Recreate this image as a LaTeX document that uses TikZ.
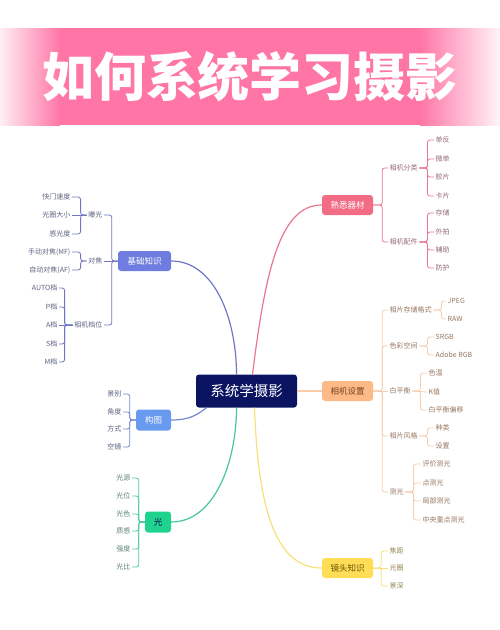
\documentclass[tikz,border=0pt]{standalone}
\usepackage{fontspec}
\setmainfont{Noto Sans CJK SC}
\usetikzlibrary{positioning}
\definecolor{titlepink}{RGB}{255,118,166}
\definecolor{darknavy}{RGB}{11,20,97}
\definecolor{basepurple}{RGB}{111,125,224}
\definecolor{baseline}{RGB}{112,118,196}
\definecolor{basetext}{RGB}{92,98,128}
\definecolor{gtblue}{RGB}{104,154,240}
\definecolor{gtline}{RGB}{118,136,210}
\definecolor{lightgreen}{RGB}{31,210,142}
\definecolor{greenline}{RGB}{70,200,150}
\definecolor{greentext}{RGB}{92,130,116}
\definecolor{shuxired}{RGB}{242,108,134}
\definecolor{redline}{RGB}{234,118,142}
\definecolor{redtext}{RGB}{150,106,116}
\definecolor{setorange}{RGB}{253,186,134}
\definecolor{orangeline}{RGB}{246,204,172}
\definecolor{orangetext}{RGB}{150,118,96}
\definecolor{darkorange}{RGB}{122,67,32}
\definecolor{lensyellow}{RGB}{255,221,87}
\definecolor{yellowline}{RGB}{249,222,122}
\definecolor{yellowtext}{RGB}{150,134,84}
\definecolor{darkyellow}{RGB}{107,83,0}

\begin{document}
\begin{tikzpicture}[x=1pt, y=-1pt,
        root/.style={rectangle, fill=darknavy, text=white, rounded corners=3pt, minimum width=101pt, minimum height=33pt, font=\fontsize{14.5}{16}\selectfont},
        topic/.style={rectangle, rounded corners=3pt, minimum height=20pt, inner sep=2pt, font=\fontsize{8.5}{10}\selectfont},
        sub/.style={inner sep=1.5pt, font=\fontsize{7}{8}\selectfont},
        leaf/.style={inner sep=1.5pt, font=\fontsize{7}{8}\selectfont},
        link/.style={rounded corners=2.5pt, line width=0.8pt},
        branch/.style={line width=1.2pt}
    ]
        \useasboundingbox (0,0) rectangle (500,630);

        % title band
        \fill[titlepink] (60,28) rectangle (420,125);
        \shade[left color=titlepink!12, right color=titlepink] (0,28) rectangle (60,125);
        \shade[left color=titlepink, right color=titlepink!8] (420,28) rectangle (500,125);
        \node[font=\fontsize{52}{52}\selectfont\bfseries, text=white] (title) at (250,77) {如何系统学习摄影};

        \node[root] (center) at (246.5,391) {系统学摄影};

        % right side
        \node[topic, fill=shuxired, text=white, minimum width=51pt] (shuxi) at (347.5,205) {熟悉器材};
        \node[sub, anchor=west, text=redtext] (fenlei) at (388,168) {相机分类};
        \node[sub, anchor=west, text=redtext] (peijian) at (388,242) {相机配件};
        \node[leaf, anchor=west, text=redtext] (danfan) at (434,140) {单反};
        \node[leaf, anchor=west, text=redtext] (weidan) at (434,159) {微单};
        \node[leaf, anchor=west, text=redtext] (jiaopian) at (434,177) {胶片};
        \node[leaf, anchor=west, text=redtext] (kapian) at (434,196) {卡片};
        \node[leaf, anchor=west, text=redtext] (cunchu) at (434,213) {存储};
        \node[leaf, anchor=west, text=redtext] (waipai) at (434,232) {外拍};
        \node[leaf, anchor=west, text=redtext] (fuzhu) at (434,250) {辅助};
        \node[leaf, anchor=west, text=redtext] (fanghu) at (434,268) {防护};

        \node[topic, fill=setorange, text=darkorange, minimum width=51pt] (shezhi) at (347.5,391) {相机设置};
        \node[sub, anchor=west, text=orangetext] (geshi) at (388,310) {相片存储格式};
        \node[sub, anchor=west, text=orangetext] (secai) at (388,346) {色彩空间};
        \node[sub, anchor=west, text=orangetext] (baiph) at (388,391) {白平衡};
        \node[sub, anchor=west, text=orangetext] (fengge) at (388,436) {相片风格};
        \node[sub, anchor=west, text=orangetext] (ceguang) at (388,492) {测光};
        \node[leaf, anchor=west, text=orangetext] (jpeg) at (446,301) {JPEG};
        \node[leaf, anchor=west, text=orangetext] (raw) at (446,319) {RAW};
        \node[leaf, anchor=west, text=orangetext] (srgb) at (434,337) {SRGB};
        \node[leaf, anchor=west, text=orangetext] (adobe) at (434,355) {Adobe RGB};
        \node[leaf, anchor=west, text=orangetext] (sewen) at (427,373) {色温};
        \node[leaf, anchor=west, text=orangetext] (kzhi) at (427,392) {K值};
        \node[leaf, anchor=west, text=orangetext] (pianyi) at (427,410) {白平衡偏移};
        \node[leaf, anchor=west, text=orangetext] (zhonglei) at (434,428) {种类};
        \node[leaf, anchor=west, text=orangetext] (shezhi2) at (434,446) {设置};
        \node[leaf, anchor=west, text=orangetext] (pingjia) at (421,464) {评价测光};
        \node[leaf, anchor=west, text=orangetext] (dian) at (421,483) {点测光};
        \node[leaf, anchor=west, text=orangetext] (jubu) at (421,501) {局部测光};
        \node[leaf, anchor=west, text=orangetext] (zhongyang) at (421,520) {中央重点测光};

        \node[topic, fill=lensyellow, text=darkyellow, minimum width=51pt] (jingtou) at (347.5,568) {镜头知识};
        \node[leaf, anchor=west, text=yellowtext] (jiaoju) at (388,551) {焦距};
        \node[leaf, anchor=west, text=yellowtext] (guangquan) at (388,568) {光圈};
        \node[leaf, anchor=west, text=yellowtext] (jingshen) at (388,586) {景深};

        % left side
        \node[topic, fill=basepurple, text=white, minimum width=53pt] (base) at (144.5,261) {基础知识};
        \node[sub, anchor=east, text=basetext] (baoguang) at (104,215) {曝光};
        \node[sub, anchor=east, text=basetext] (duijiao) at (104,261) {对焦};
        \node[sub, anchor=east, text=basetext] (dangwei) at (104,325) {相机档位};
        \node[leaf, anchor=east, text=basetext] (kuaimen) at (72,197) {快门速度};
        \node[leaf, anchor=east, text=basetext] (daxiao) at (72,215) {光圈大小};
        \node[leaf, anchor=east, text=basetext] (ganguang) at (72,234) {感光度};
        \node[leaf, anchor=east, text=basetext] (mf) at (72,252) {手动对焦(MF)};
        \node[leaf, anchor=east, text=basetext] (af) at (72,270) {自动对焦(AF)};
        \node[leaf, anchor=east, text=basetext] (auto) at (59,288) {AUTO档};
        \node[leaf, anchor=east, text=basetext] (pdang) at (59,307) {P档};
        \node[leaf, anchor=east, text=basetext] (adang) at (59,325) {A档};
        \node[leaf, anchor=east, text=basetext] (sdang) at (59,344) {S档};
        \node[leaf, anchor=east, text=basetext] (mdang) at (59,362) {M档};

        \node[topic, fill=gtblue, text=white, minimum width=35pt, minimum height=21pt] (goutu) at (153.5,420) {构图};
        \node[leaf, anchor=east, text=basetext] (jingbie) at (123,394) {景别};
        \node[leaf, anchor=east, text=basetext] (jiaodu) at (123,412) {角度};
        \node[leaf, anchor=east, text=basetext] (fangshi) at (123,429) {方式};
        \node[leaf, anchor=east, text=basetext] (kongjing) at (123,447) {空镜};

        \node[topic, fill=lightgreen, text=darknavy!80!black, minimum width=26pt, minimum height=21pt] (guang) at (158,522) {光};
        \node[leaf, anchor=east, text=greentext] (guangyuan) at (132,478) {光源};
        \node[leaf, anchor=east, text=greentext] (guangwei) at (132,496) {光位};
        \node[leaf, anchor=east, text=greentext] (guangse) at (132,514) {光色};
        \node[leaf, anchor=east, text=greentext] (zhigan) at (132,531) {质感};
        \node[leaf, anchor=east, text=greentext] (qiangdu) at (132,549) {强度};
        \node[leaf, anchor=east, text=greentext] (guangbi) at (132,567) {光比};

        % main branches
        \draw[branch, draw=baseline] (base.east) .. controls +(44,0) and +(0,-54) .. ([xshift=-10pt]center.north);
        \draw[branch, draw=redline] ([xshift=6pt]center.north) .. controls +(13,-104) and +(-42,0) .. (shuxi.west);
        \draw[branch, draw=orangeline] (center.east) -- (shezhi.west);
        \draw[branch, draw=yellowline] ([xshift=8pt]center.south) .. controls +(4,113) and +(-42,0) .. (jingtou.west);
        \draw[branch, draw=gtline] (goutu.east) .. controls +(20,0) and +(-8,6) .. ([xshift=-40pt]center.south);
        \draw[branch, draw=greenline] (guang.east) .. controls +(44,0) and +(0,53) .. ([xshift=-10pt]center.south);

        % brackets right
        \draw[link, draw=redline] (shuxi.east) -- ++(9,0) |- (fenlei.west);
        \draw[link, draw=redline] (shuxi.east) -- ++(9,0) |- (peijian.west);
        \draw[link, draw=redline] (fenlei.east) -- ++(8,0) |- (danfan.west);
        \draw[link, draw=redline] (fenlei.east) -- ++(8,0) |- (weidan.west);
        \draw[link, draw=redline] (fenlei.east) -- ++(8,0) |- (jiaopian.west);
        \draw[link, draw=redline] (fenlei.east) -- ++(8,0) |- (kapian.west);
        \draw[link, draw=redline] (peijian.east) -- ++(8,0) |- (cunchu.west);
        \draw[link, draw=redline] (peijian.east) -- ++(8,0) |- (waipai.west);
        \draw[link, draw=redline] (peijian.east) -- ++(8,0) |- (fuzhu.west);
        \draw[link, draw=redline] (peijian.east) -- ++(8,0) |- (fanghu.west);

        \draw[link, draw=orangeline] (shezhi.east) -- ++(9,0) |- (geshi.west);
        \draw[link, draw=orangeline] (shezhi.east) -- ++(9,0) |- (secai.west);
        \draw[link, draw=orangeline] (shezhi.east) -- (baiph.west);
        \draw[link, draw=orangeline] (shezhi.east) -- ++(9,0) |- (fengge.west);
        \draw[link, draw=orangeline] (shezhi.east) -- ++(9,0) |- (ceguang.west);
        \draw[link, draw=orangeline] (geshi.east) -- ++(8,0) |- (jpeg.west);
        \draw[link, draw=orangeline] (geshi.east) -- ++(8,0) |- (raw.west);
        \draw[link, draw=orangeline] (secai.east) -- ++(8,0) |- (srgb.west);
        \draw[link, draw=orangeline] (secai.east) -- ++(8,0) |- (adobe.west);
        \draw[link, draw=orangeline] (baiph.east) -- ++(8,0) |- (sewen.west);
        \draw[link, draw=orangeline] (baiph.east) -- (kzhi.west);
        \draw[link, draw=orangeline] (baiph.east) -- ++(8,0) |- (pianyi.west);
        \draw[link, draw=orangeline] (fengge.east) -- ++(8,0) |- (zhonglei.west);
        \draw[link, draw=orangeline] (fengge.east) -- ++(8,0) |- (shezhi2.west);
        \draw[link, draw=orangeline] (ceguang.east) -- ++(8,0) |- (pingjia.west);
        \draw[link, draw=orangeline] (ceguang.east) -- ++(8,0) |- (dian.west);
        \draw[link, draw=orangeline] (ceguang.east) -- ++(8,0) |- (jubu.west);
        \draw[link, draw=orangeline] (ceguang.east) -- ++(8,0) |- (zhongyang.west);

        \draw[link, draw=yellowline] (jingtou.east) -- ++(8,0) |- (jiaoju.west);
        \draw[link, draw=yellowline] (jingtou.east) -- (guangquan.west);
        \draw[link, draw=yellowline] (jingtou.east) -- ++(8,0) |- (jingshen.west);

        % brackets left
        \draw[link, draw=baseline] (base.west) -- ++(-6,0) |- (baoguang.east);
        \draw[link, draw=baseline] (base.west) -- (duijiao.east);
        \draw[link, draw=baseline] (base.west) -- ++(-6,0) |- (dangwei.east);
        \draw[link, draw=baseline] (baoguang.west) -- ++(-6,0) |- (kuaimen.east);
        \draw[link, draw=baseline] (baoguang.west) -- (daxiao.east);
        \draw[link, draw=baseline] (baoguang.west) -- ++(-6,0) |- (ganguang.east);
        \draw[link, draw=baseline] (duijiao.west) -- ++(-6,0) |- (mf.east);
        \draw[link, draw=baseline] (duijiao.west) -- ++(-6,0) |- (af.east);
        \draw[link, draw=baseline] (dangwei.west) -- ++(-8,0) |- (auto.east);
        \draw[link, draw=baseline] (dangwei.west) -- ++(-8,0) |- (pdang.east);
        \draw[link, draw=baseline] (dangwei.west) -- (adang.east);
        \draw[link, draw=baseline] (dangwei.west) -- ++(-8,0) |- (sdang.east);
        \draw[link, draw=baseline] (dangwei.west) -- ++(-8,0) |- (mdang.east);

        \draw[link, draw=gtline] (goutu.west) -- ++(-6,0) |- (jingbie.east);
        \draw[link, draw=gtline] (goutu.west) -- ++(-6,0) |- (jiaodu.east);
        \draw[link, draw=gtline] (goutu.west) -- ++(-6,0) |- (fangshi.east);
        \draw[link, draw=gtline] (goutu.west) -- ++(-6,0) |- (kongjing.east);

        \draw[link, draw=greenline] (guang.west) -- ++(-6,0) |- (guangyuan.east);
        \draw[link, draw=greenline] (guang.west) -- ++(-6,0) |- (guangwei.east);
        \draw[link, draw=greenline] (guang.west) -- ++(-6,0) |- (guangse.east);
        \draw[link, draw=greenline] (guang.west) -- ++(-6,0) |- (zhigan.east);
        \draw[link, draw=greenline] (guang.west) -- ++(-6,0) |- (qiangdu.east);
        \draw[link, draw=greenline] (guang.west) -- ++(-6,0) |- (guangbi.east);
    \end{tikzpicture}
\end{document}
